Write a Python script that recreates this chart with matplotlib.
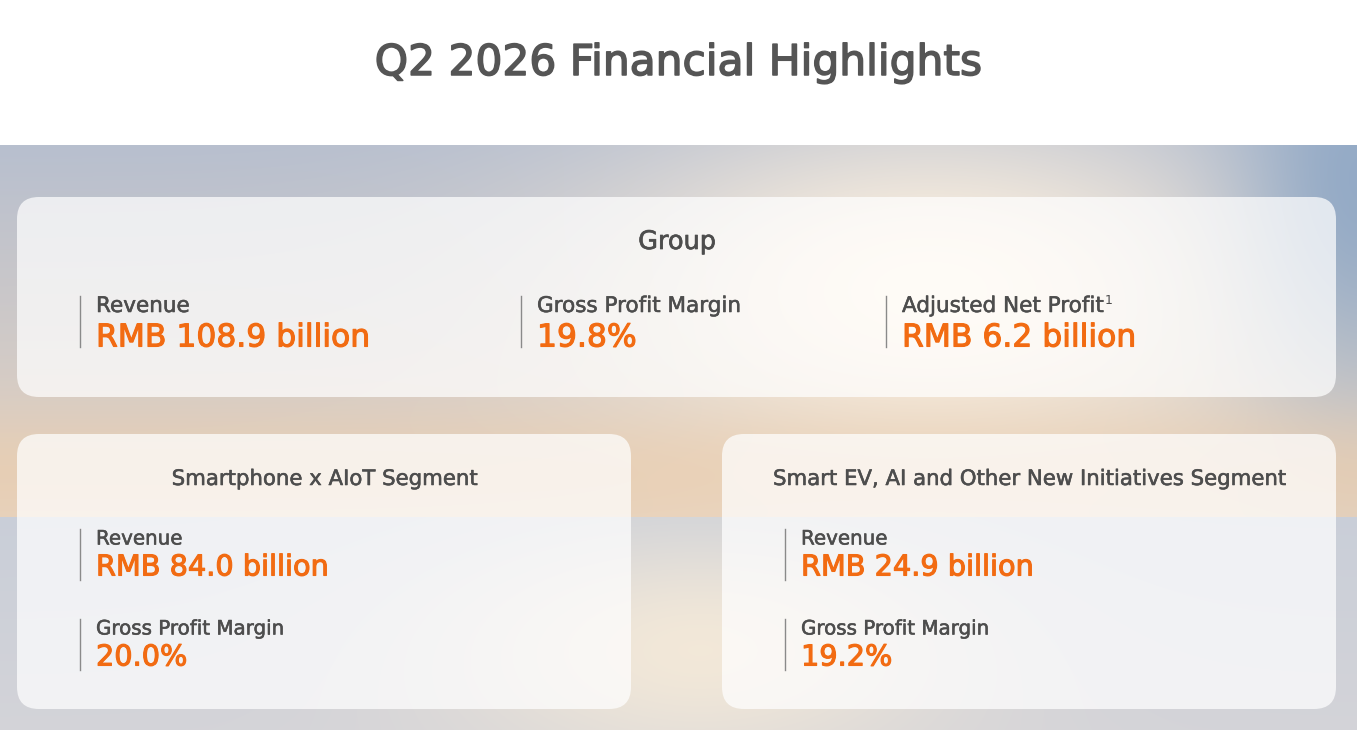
import numpy as np
import matplotlib
matplotlib.use("Agg")
import matplotlib.pyplot as plt
import matplotlib.patheffects as pe
from matplotlib.patches import FancyBboxPatch

# ---- content ----
TITLE = "Q2 2026 Financial Highlights"

group_name = "Group"
group_labels = ["Revenue", "Gross Profit Margin", "Adjusted Net Profit"]
group_values = ["RMB 108.9 billion", "19.8%", "RMB 6.2 billion"]
group_notes = ["", "", "1"]          # footnote markers

segment_names = ["Smartphone x AIoT Segment",
                 "Smart EV, AI and Other New Initiatives Segment"]
segment_labels = ["Revenue", "Gross Profit Margin"]
segment_values = [["RMB 84.0 billion", "20.0%"],
                  ["RMB 24.9 billion", "19.2%"]]

ORANGE = "#f26b12"
GREY = "#4d4d4d"
FONT = ["DejaVu Sans"]

W, H = 1357, 730
fig = plt.figure(figsize=(W / 100, H / 100), dpi=100)
ax = fig.add_axes([0, 0, 1, 1])
ax.set_xlim(0, W)
ax.set_ylim(H, 0)
ax.axis("off")


def bold(c, w=0.6):
    # a touch heavier than the book weight, like a medium cut
    return [pe.withStroke(linewidth=w, foreground=c)]


def sky_background(top=145):
    """soft sunset-sky gradient standing in for the photo"""
    h = H - top
    yy, xx = np.mgrid[0:h, 0:W].astype(float)
    gy = yy + top

    # upper sky
    t = np.clip((gy - top) / (517 - top), 0, 1)[..., None]
    sky_top = np.array([0.72, 0.75, 0.81])
    sky_low = np.array([0.90, 0.83, 0.76])
    upper = sky_top * (1 - t) + sky_low * t
    glow = np.exp(-(((xx - 930) / 330) ** 2 + ((gy - 290) / 170) ** 2))[..., None]
    upper = upper * (1 - glow) + np.array([1.0, 0.95, 0.88]) * glow
    blue = np.exp(-(((xx - 1357) / 120) ** 2 + ((gy - 200) / 200) ** 2))[..., None]
    upper = upper * (1 - 0.7 * blue) + np.array([0.50, 0.62, 0.76]) * 0.7 * blue
    warm = np.exp(-(((gy - 470) / 60) ** 2))[..., None] * 0.5
    upper = upper * (1 - warm) + np.array([0.93, 0.80, 0.66]) * warm

    # lower sea of clouds
    s = np.clip((gy - 517) / (H - 517), 0, 1)[..., None]
    lower = np.array([0.79, 0.81, 0.85]) * (1 - s) + np.array([0.83, 0.83, 0.85]) * s
    lglow = np.exp(-(((xx - 700) / 260) ** 2 + ((gy - 650) / 120) ** 2))[..., None]
    lower = lower * (1 - lglow) + np.array([0.95, 0.91, 0.85]) * lglow

    img = np.where((gy < 517)[..., None], upper, lower)
    ax.imshow(img, extent=(0, W, H, top), aspect="auto", zorder=0)


def card(x0, y0, x1, y1):
    ax.add_patch(FancyBboxPatch((x0, y0), x1 - x0, y1 - y0,
                                boxstyle="round,pad=0,rounding_size=22",
                                fc="white", ec="none", alpha=0.72, zorder=1))


def metric(x, y, label, value, note="", lsize=15.5, vsize=22.6, gap=32):
    # thin divider, label, big orange number
    ax.plot([x, x], [y - 9, y + 42], color="#8a8a8a", lw=1, zorder=2)
    lab = ax.text(x + 16, y + 1, label, fontsize=lsize, color=GREY,
                  family=FONT, va="center", zorder=3, path_effects=bold(GREY, 0.4))
    ax.text(x + 16, y + 1 + gap, value, fontsize=vsize, color=ORANGE,
            family=FONT, va="center", zorder=3, path_effects=bold(ORANGE, 0.8))
    if note:
        fig.canvas.draw()
        bb = lab.get_window_extent().transformed(ax.transData.inverted())
        ax.text(bb.x1 + 0.5, y - 5, note, fontsize=9, color=GREY,
                family=FONT, va="center", zorder=3)


sky_background()

ax.text(W / 2, 63, TITLE, ha="center", va="center", fontsize=30.5,
        color="#555555", family=FONT, path_effects=bold("#555555", 1.1))

# group card
card(17, 197, 1336, 397)
ax.text(677, 242, group_name, ha="center", va="center", fontsize=18.4,
        color=GREY, family=FONT, zorder=3, path_effects=bold(GREY, 0.5))
for gx, lab, val, note in zip([80, 521, 886], group_labels, group_values, group_notes):
    metric(gx, 305, lab, val, note)

# segment cards
for (x0, x1), name, vals in zip([(17, 631), (722, 1336)], segment_names, segment_values):
    card(x0, 434, x1, 709)
    ax.text((x0 + x1) / 2, 479, name, ha="center", va="center", fontsize=15.3,
            color=GREY, family=FONT, zorder=3, path_effects=bold(GREY, 0.4))
    for k, (lab, val) in enumerate(zip(segment_labels, vals)):
        metric(x0 + 63, 538 + 90 * k, lab, val, lsize=14.3, vsize=20.7, gap=28.5)

fig.savefig("out.png", dpi=100)
